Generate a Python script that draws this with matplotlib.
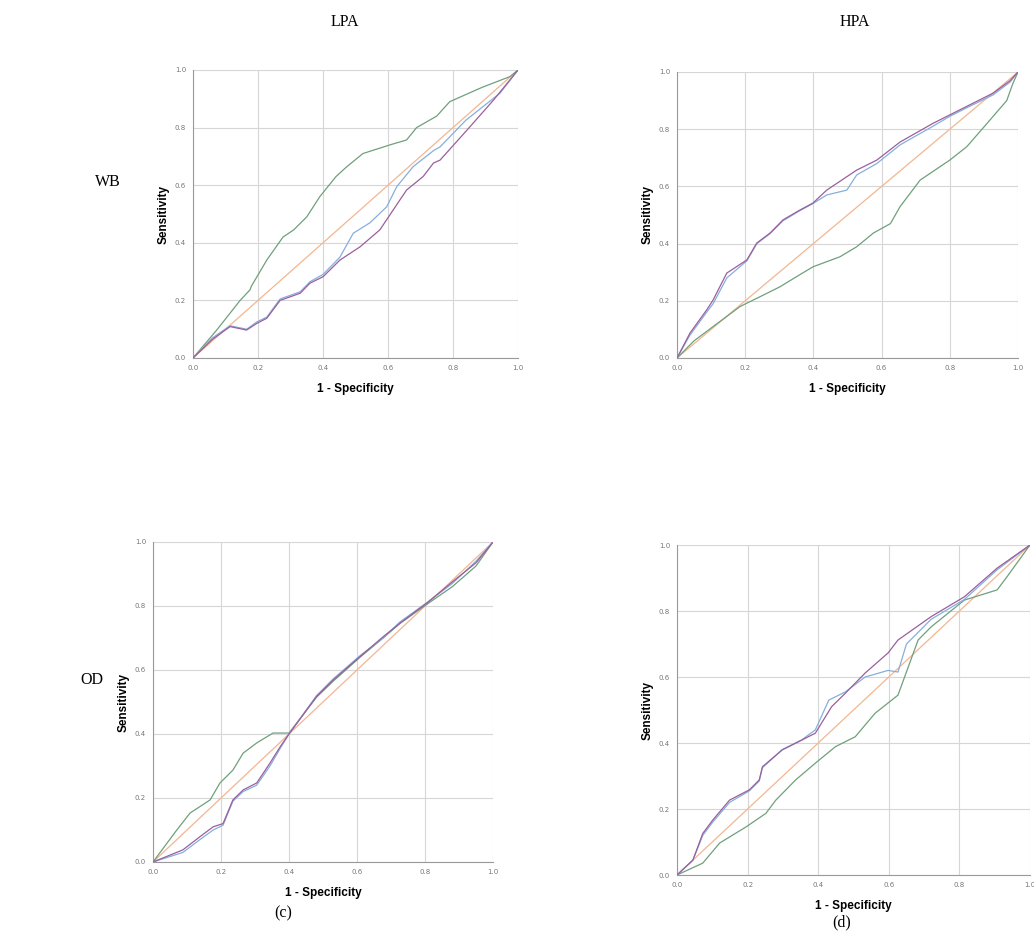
import matplotlib
matplotlib.use('Agg')
import matplotlib.pyplot as plt

# ==========================================
# DATA
# ==========================================
# (a) WB / LPA
wb_lpa_green_x = [0, 0.073, 0.145, 0.175, 0.18, 0.227, 0.277, 0.31, 0.35, 0.39, 0.44, 0.473, 0.523, 0.606, 0.657, 0.688, 0.75, 0.79, 0.89, 0.975, 1]
wb_lpa_green_y = [0, 0.097, 0.20, 0.236, 0.25, 0.34, 0.42, 0.445, 0.49, 0.56, 0.63, 0.664, 0.71, 0.74, 0.757, 0.80, 0.84, 0.89, 0.94, 0.977, 1]
wb_lpa_blue_x = [0, 0.06, 0.114, 0.165, 0.196, 0.227, 0.268, 0.33, 0.36, 0.40, 0.452, 0.493, 0.545, 0.596, 0.627, 0.677, 0.74, 0.76, 0.84, 0.945, 1]
wb_lpa_blue_y = [0, 0.07, 0.112, 0.10, 0.125, 0.142, 0.205, 0.23, 0.265, 0.29, 0.35, 0.433, 0.47, 0.525, 0.595, 0.664, 0.72, 0.733, 0.826, 0.92, 1]
wb_lpa_purple_x = [0, 0.06, 0.114, 0.165, 0.196, 0.227, 0.268, 0.33, 0.36, 0.40, 0.452, 0.514, 0.575, 0.616, 0.657, 0.708, 0.74, 0.76, 0.842, 0.925, 1]
wb_lpa_purple_y = [0, 0.065, 0.109, 0.097, 0.12, 0.138, 0.20, 0.225, 0.26, 0.282, 0.34, 0.386, 0.445, 0.514, 0.583, 0.63, 0.677, 0.687, 0.79, 0.896, 1]

# (b) WB / HPA
wb_hpa_green_x = [0, 0.05, 0.106, 0.185, 0.243, 0.302, 0.35, 0.399, 0.478, 0.527, 0.576, 0.626, 0.654, 0.713, 0.80, 0.85, 0.909, 0.967, 0.985, 1]
wb_hpa_green_y = [0, 0.06, 0.11, 0.18, 0.214, 0.249, 0.284, 0.319, 0.354, 0.389, 0.437, 0.47, 0.529, 0.622, 0.692, 0.739, 0.82, 0.90, 0.96, 1]
wb_hpa_blue_x = [0, 0.038, 0.087, 0.106, 0.146, 0.205, 0.234, 0.273, 0.311, 0.36, 0.399, 0.439, 0.498, 0.527, 0.586, 0.654, 0.75, 0.80, 0.85, 0.927, 0.977, 1]
wb_hpa_blue_y = [0, 0.08, 0.16, 0.19, 0.28, 0.34, 0.40, 0.435, 0.48, 0.515, 0.54, 0.57, 0.587, 0.64, 0.68, 0.745, 0.81, 0.845, 0.875, 0.92, 0.965, 1]
wb_hpa_purple_x = [0, 0.038, 0.087, 0.106, 0.146, 0.205, 0.234, 0.273, 0.311, 0.36, 0.399, 0.439, 0.468, 0.527, 0.586, 0.654, 0.75, 0.80, 0.85, 0.927, 0.977, 1]
wb_hpa_purple_y = [0, 0.087, 0.168, 0.203, 0.297, 0.343, 0.402, 0.437, 0.483, 0.517, 0.542, 0.587, 0.61, 0.657, 0.692, 0.755, 0.82, 0.85, 0.88, 0.926, 0.97, 1]

# (c) OD / LPA
od_lpa_green_x = [0, 0.07, 0.109, 0.168, 0.197, 0.235, 0.265, 0.305, 0.353, 0.40, 0.481, 0.53, 0.609, 0.677, 0.726, 0.805, 0.88, 0.95, 1]
od_lpa_green_y = [0, 0.10, 0.153, 0.194, 0.247, 0.287, 0.34, 0.372, 0.403, 0.403, 0.515, 0.565, 0.64, 0.70, 0.745, 0.805, 0.86, 0.925, 1]
od_lpa_blue_x = [0, 0.088, 0.138, 0.177, 0.206, 0.235, 0.265, 0.305, 0.344, 0.374, 0.40, 0.481, 0.53, 0.609, 0.677, 0.726, 0.805, 0.88, 0.95, 1]
od_lpa_blue_y = [0, 0.03, 0.07, 0.10, 0.115, 0.19, 0.22, 0.24, 0.30, 0.355, 0.40, 0.52, 0.572, 0.645, 0.70, 0.75, 0.81, 0.87, 0.94, 1]
od_lpa_purple_x = [0, 0.088, 0.138, 0.177, 0.206, 0.235, 0.265, 0.305, 0.344, 0.374, 0.40, 0.481, 0.53, 0.609, 0.677, 0.726, 0.805, 0.88, 0.95, 1]
od_lpa_purple_y = [0, 0.038, 0.079, 0.11, 0.12, 0.194, 0.225, 0.247, 0.309, 0.36, 0.40, 0.517, 0.569, 0.642, 0.704, 0.746, 0.809, 0.875, 0.935, 1]

# (d) OD / HPA
od_hpa_green_x = [0, 0.073, 0.121, 0.196, 0.252, 0.28, 0.336, 0.392, 0.449, 0.505, 0.561, 0.626, 0.683, 0.72, 0.814, 0.907, 0.935, 1]
od_hpa_green_y = [0, 0.036, 0.097, 0.146, 0.187, 0.227, 0.288, 0.339, 0.389, 0.419, 0.49, 0.545, 0.712, 0.752, 0.833, 0.864, 0.904, 1]
od_hpa_blue_x = [0, 0.045, 0.073, 0.101, 0.149, 0.205, 0.233, 0.242, 0.298, 0.354, 0.392, 0.43, 0.477, 0.533, 0.598, 0.626, 0.65, 0.72, 0.814, 0.907, 1]
od_hpa_blue_y = [0, 0.045, 0.12, 0.16, 0.22, 0.255, 0.285, 0.325, 0.38, 0.41, 0.44, 0.53, 0.555, 0.60, 0.62, 0.615, 0.70, 0.775, 0.835, 0.925, 1]
od_hpa_purple_x = [0, 0.045, 0.073, 0.101, 0.149, 0.205, 0.233, 0.242, 0.298, 0.354, 0.392, 0.438, 0.477, 0.533, 0.598, 0.626, 0.72, 0.814, 0.907, 1]
od_hpa_purple_y = [0, 0.045, 0.126, 0.166, 0.227, 0.258, 0.288, 0.328, 0.379, 0.409, 0.43, 0.51, 0.551, 0.612, 0.673, 0.712, 0.783, 0.843, 0.93, 1]

ticks = [0.0, 0.2, 0.4, 0.6, 0.8, 1.0]
tick_labels = ['0.0', '0.2', '0.4', '0.6', '0.8', '1.0']

GREEN = '#6fa07c'
BLUE = '#86aede'
PURPLE = '#9a5f9c'
DIAG = '#f3b690'

# ==========================================
# FIGURE
# ==========================================
fig = plt.figure(figsize=(10.34, 9.5), dpi=100)
W, H = 1034.0, 950.0

def add_panel(left, top, right, bottom):
    return fig.add_axes([left / W, 1 - bottom / H, (right - left) / W, (bottom - top) / H])

def draw_roc(ax, green, blue, purple):
    ax.plot([0, 1], [0, 1], color=DIAG, lw=0.9, zorder=2)
    ax.plot(green[0], green[1], color=GREEN, lw=0.9, zorder=3)
    ax.plot(blue[0], blue[1], color=BLUE, lw=0.9, zorder=3)
    ax.plot(purple[0], purple[1], color=PURPLE, lw=0.9, zorder=4)
    ax.set_xlim(0, 1)
    ax.set_ylim(0, 1)
    ax.set_xticks(ticks)
    ax.set_yticks(ticks)
    ax.set_xticklabels(tick_labels)
    ax.set_yticklabels(tick_labels)
    ax.grid(True, color='#d6d6d6', lw=0.8)
    ax.set_axisbelow(True)
    for s in ['top', 'right']:
        ax.spines[s].set_visible(False)
    for s in ['left', 'bottom']:
        ax.spines[s].set_color('#9a9a9a')
        ax.spines[s].set_linewidth(0.8)
    ax.tick_params(length=0, pad=5, labelsize=5, labelcolor='#777777')
    ax.set_xlabel('1 - Specificity', fontsize=8.5, fontweight='bold', family='Liberation Sans', labelpad=9)
    ax.set_ylabel('Sensitivity', fontsize=8.5, fontweight='bold', family='Liberation Sans', labelpad=4)

ax_a = add_panel(193, 70, 518, 358)
draw_roc(ax_a, (wb_lpa_green_x, wb_lpa_green_y), (wb_lpa_blue_x, wb_lpa_blue_y), (wb_lpa_purple_x, wb_lpa_purple_y))
ax_b = add_panel(677, 72, 1018, 358)
draw_roc(ax_b, (wb_hpa_green_x, wb_hpa_green_y), (wb_hpa_blue_x, wb_hpa_blue_y), (wb_hpa_purple_x, wb_hpa_purple_y))
ax_c = add_panel(153, 542, 493, 862)
draw_roc(ax_c, (od_lpa_green_x, od_lpa_green_y), (od_lpa_blue_x, od_lpa_blue_y), (od_lpa_purple_x, od_lpa_purple_y))
ax_d = add_panel(677, 545, 1030, 875)
draw_roc(ax_d, (od_hpa_green_x, od_hpa_green_y), (od_hpa_blue_x, od_hpa_blue_y), (od_hpa_purple_x, od_hpa_purple_y))

serif = dict(family='Liberation Serif', fontsize=11.5, ha='center', va='center')
fig.text(345 / W, 1 - 22 / H, 'LPA', **serif)
fig.text(855 / W, 1 - 22 / H, 'HPA', **serif)
fig.text(108 / W, 1 - 182 / H, 'WB', **serif)
fig.text(92 / W, 1 - 680 / H, 'OD', **serif)
fig.text(283 / W, 1 - 913 / H, '(c)', **serif)
fig.text(842 / W, 1 - 922 / H, '(d)', **serif)

fig.savefig('out.png', dpi=100)
